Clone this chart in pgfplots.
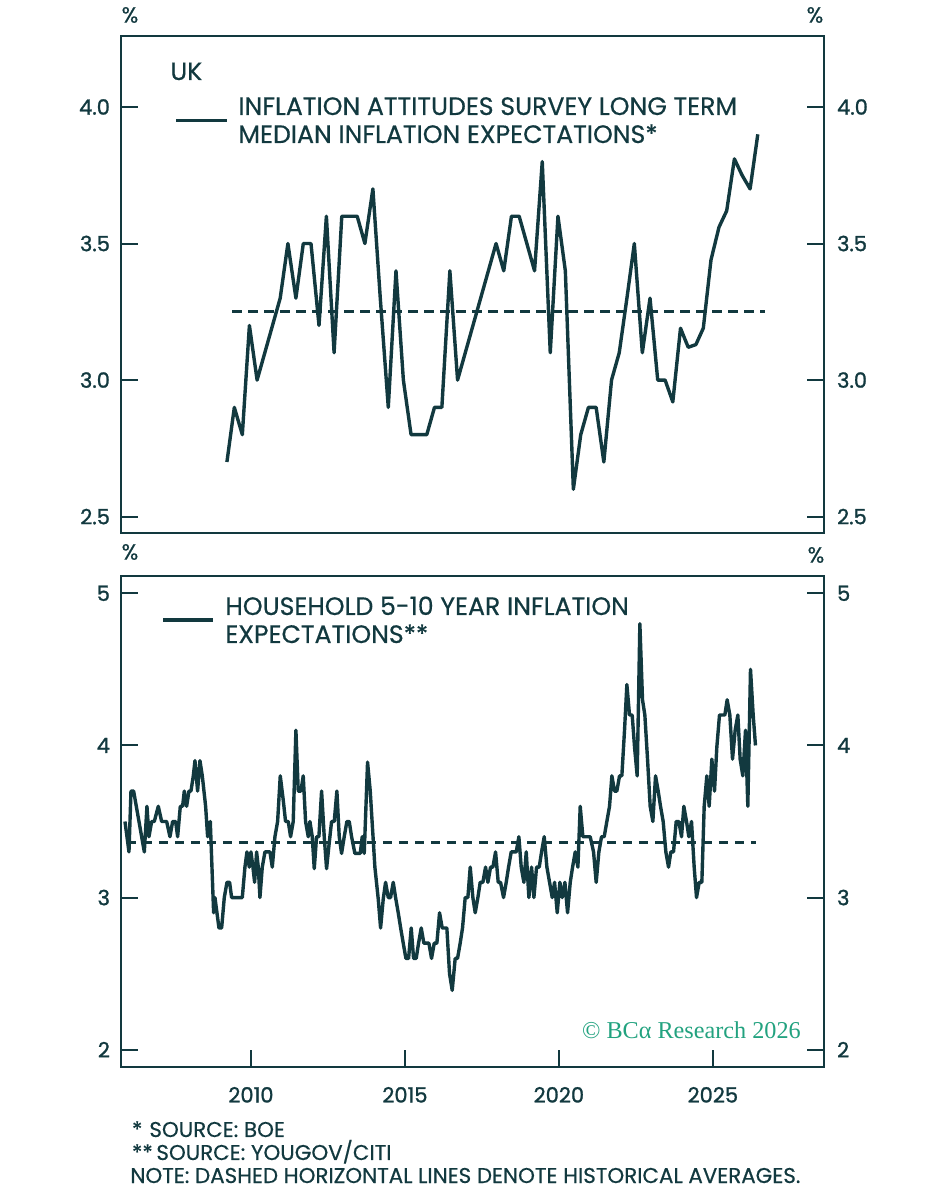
\documentclass[border=0pt]{standalone}
\usepackage{fontspec}
\setmainfont{Poppins}
\newfontfamily\tickfont{Poppins}[FakeBold=1.2]
\newfontfamily\txtfont{Poppins}[FakeBold=0.5]
\newfontfamily\seriffont{Liberation Serif}
\usepackage{pgfplots}
\usepackage{pgfplotstable}
\pgfplotsset{compat=1.18}
\definecolor{dark}{HTML}{12393F}
\definecolor{bcagreen}{HTML}{22A27F}

\pgfplotstableread{
year val
2009.22 2.7
2009.46 2.9
2009.72 2.8
2009.95 3.2
2010.20 3.0
2010.45 3.1
2010.70 3.2
2010.95 3.3
2011.20 3.5
2011.46 3.3
2011.70 3.5
2011.95 3.5
2012.21 3.2
2012.45 3.6
2012.70 3.1
2012.95 3.6
2013.20 3.6
2013.45 3.6
2013.70 3.5
2013.96 3.7
2014.20 3.3
2014.46 2.9
2014.71 3.4
2014.95 3.0
2015.20 2.8
2015.45 2.8
2015.71 2.8
2015.96 2.9
2016.20 2.9
2016.46 3.4
2016.71 3.0
2016.96 3.1
2017.21 3.2
2017.46 3.3
2017.71 3.4
2017.96 3.5
2018.21 3.4
2018.46 3.6
2018.71 3.6
2018.96 3.5
2019.21 3.4
2019.46 3.8
2019.72 3.1
2019.97 3.6
2020.21 3.4
2020.47 2.6
2020.71 2.8
2020.96 2.9
2021.21 2.9
2021.46 2.7
2021.71 3.0
2021.96 3.1
2022.21 3.3
2022.45 3.5
2022.71 3.1
2022.96 3.3
2023.21 3.0
2023.45 3.0
2023.70 2.92
2023.95 3.19
2024.20 3.12
2024.45 3.13
2024.69 3.19
2024.94 3.44
2025.20 3.56
2025.45 3.62
2025.70 3.81
2025.95 3.75
2026.21 3.70
2026.46 3.90
}\boetable

\pgfplotstableread{
year val
2005.909 3.50
2006.039 3.30
2006.104 3.70
2006.190 3.70
2006.364 3.50
2006.537 3.30
2006.623 3.60
2006.688 3.40
2006.775 3.50
2006.861 3.50
2006.991 3.60
2007.100 3.50
2007.262 3.50
2007.370 3.40
2007.457 3.50
2007.554 3.50
2007.619 3.40
2007.706 3.60
2007.781 3.60
2007.835 3.70
2007.911 3.60
2007.987 3.70
2008.052 3.70
2008.128 3.80
2008.182 3.90
2008.268 3.70
2008.344 3.90
2008.420 3.80
2008.528 3.60
2008.593 3.40
2008.680 3.50
2008.788 2.90
2008.831 3.00
2008.896 2.90
2008.961 2.80
2009.048 2.80
2009.134 3.00
2009.221 3.10
2009.307 3.10
2009.372 3.00
2009.535 3.00
2009.719 3.00
2009.805 3.20
2009.870 3.30
2009.946 3.20
2010.000 3.30
2010.065 3.20
2010.119 3.10
2010.184 3.30
2010.238 3.20
2010.292 3.00
2010.368 3.20
2010.455 3.30
2010.617 3.30
2010.693 3.20
2010.779 3.40
2010.866 3.50
2010.952 3.80
2011.049 3.64
2011.124 3.50
2011.211 3.50
2011.287 3.40
2011.373 3.50
2011.460 4.10
2011.536 3.70
2011.623 3.70
2011.698 3.80
2011.774 3.50
2011.861 3.40
2011.915 3.50
2011.991 3.40
2012.056 3.19
2012.131 3.40
2012.207 3.40
2012.294 3.70
2012.380 3.40
2012.456 3.19
2012.532 3.34
2012.618 3.50
2012.705 3.50
2012.791 3.70
2012.867 3.40
2012.943 3.29
2013.029 3.40
2013.116 3.50
2013.192 3.50
2013.268 3.40
2013.376 3.29
2013.462 3.29
2013.549 3.29
2013.614 3.40
2013.679 3.29
2013.787 3.89
2013.874 3.70
2014.025 3.20
2014.134 2.99
2014.210 2.80
2014.296 2.99
2014.372 3.10
2014.459 3.00
2014.534 3.00
2014.621 3.10
2014.697 3.00
2014.783 2.90
2014.870 2.79
2014.946 2.70
2015.032 2.60
2015.119 2.60
2015.205 2.80
2015.281 2.60
2015.367 2.60
2015.443 2.70
2015.530 2.80
2015.616 2.70
2015.703 2.70
2015.779 2.70
2015.865 2.60
2015.952 2.70
2016.038 2.70
2016.125 2.90
2016.211 2.80
2016.362 2.80
2016.449 2.50
2016.536 2.39
2016.633 2.60
2016.709 2.60
2016.795 2.70
2016.871 2.80
2016.958 3.00
2017.045 3.00
2017.121 3.20
2017.207 3.00
2017.283 2.90
2017.370 3.00
2017.445 3.10
2017.532 3.10
2017.619 3.20
2017.695 3.10
2017.781 3.20
2017.857 3.20
2017.944 3.30
2018.030 3.10
2018.106 3.10
2018.203 3.00
2018.290 3.10
2018.366 3.20
2018.452 3.30
2018.528 3.30
2018.615 3.30
2018.701 3.40
2018.777 3.20
2018.864 3.10
2018.940 3.30
2019.026 3.00
2019.113 3.20
2019.189 3.00
2019.275 3.20
2019.362 3.20
2019.438 3.30
2019.524 3.40
2019.611 3.20
2019.698 3.10
2019.784 3.00
2019.860 3.10
2019.947 2.90
2020.033 3.10
2020.109 3.00
2020.196 3.10
2020.282 2.90
2020.369 3.10
2020.445 3.20
2020.531 3.30
2020.618 3.20
2020.693 3.60
2020.779 3.40
2020.855 3.40
2021.017 3.40
2021.126 3.30
2021.212 3.10
2021.299 3.30
2021.385 3.40
2021.472 3.40
2021.558 3.50
2021.645 3.60
2021.721 3.80
2021.807 3.70
2021.883 3.70
2021.970 3.80
2022.045 3.80
2022.132 4.10
2022.208 4.40
2022.294 4.20
2022.381 4.20
2022.457 3.99
2022.543 3.80
2022.630 4.80
2022.716 4.30
2022.792 4.20
2022.879 3.91
2022.965 3.60
2023.052 3.50
2023.139 3.80
2023.225 3.70
2023.301 3.60
2023.387 3.50
2023.474 3.30
2023.561 3.20
2023.636 3.30
2023.723 3.30
2023.810 3.50
2023.896 3.50
2023.983 3.40
2024.058 3.60
2024.145 3.50
2024.221 3.40
2024.307 3.50
2024.394 3.20
2024.470 3.00
2024.556 3.10
2024.643 3.10
2024.719 3.60
2024.805 3.80
2024.881 3.60
2024.968 3.91
2025.054 3.70
2025.130 3.99
2025.216 4.20
2025.303 4.20
2025.390 4.20
2025.465 4.30
2025.552 4.20
2025.639 3.91
2025.725 4.10
2025.812 4.20
2025.887 3.91
2025.974 3.80
2026.061 4.10
2026.136 3.60
2026.223 4.50
2026.310 4.20
2026.385 4.00
}\yougovtable

\pgfplotsset{
  common/.style={
    scale only axis, width=351.5pt,
    xmin=2005.78, xmax=2028.61,
    axis line style={dark, line width=1pt},
    every tick/.style={dark, line width=1pt},
    tick align=inside, major tick length=8.5pt,
    tick label style={font=\tickfont\fontsize{10.5}{12}\selectfont, text=dark},
    /pgf/number format/assume math mode=true,
    /pgf/number format/1000 sep={},
  },
  series/.style={dark, line width=1.7pt, line join=round, no markers},
  avg/.style={dark, line width=1.6pt, dash pattern=on 4.7pt off 3.3pt, no markers},
}

\begin{document}
\begin{tikzpicture}
\useasboundingbox (0,0) rectangle (472.5pt,600pt);

% ---------- top panel ----------
\begin{axis}[common, at={(60.5pt,333.5pt)}, anchor=south west, height=248.5pt,
  ymin=2.44, ymax=4.26, xtick=\empty,
  ytick={2.5,3,3.5,4}, ytick pos=both, yticklabel pos=left,
  yticklabel style={xshift=-2pt, /pgf/number format/.cd, fixed, fixed zerofill, precision=1}]
  \addplot[avg] coordinates {(2009.40,3.25) (2026.70,3.25)};
  \addplot[series] table[x=year, y=val] {\boetable};
\end{axis}
\begin{axis}[common, at={(60.5pt,333.5pt)}, anchor=south west, height=248.5pt,
  ymin=2.44, ymax=4.26, axis x line=none, axis y line*=right,
  y axis line style={draw=none}, major tick length=0pt,
  ytick={2.5,3,3.5,4},
  yticklabel style={xshift=3pt, /pgf/number format/.cd, fixed, fixed zerofill, precision=1}]
\end{axis}

% ---------- bottom panel ----------
\begin{axis}[common, at={(60.5pt,66.5pt)}, anchor=south west, height=245.5pt,
  ymin=1.886, ymax=5.114,
  xtick={2010,2015,2020,2025}, xtick pos=bottom,
  xticklabel style={yshift=-6.5pt},
  ytick={2,3,4,5}, ytick pos=both, yticklabel pos=left,
  yticklabel style={xshift=-2pt}]
  \addplot[avg] coordinates {(2005.97,3.36) (2026.41,3.36)};
  \addplot[series] table[x=year, y=val] {\yougovtable};
\end{axis}
\begin{axis}[common, at={(60.5pt,66.5pt)}, anchor=south west, height=245.5pt,
  ymin=1.886, ymax=5.114, axis x line=none, axis y line*=right,
  y axis line style={draw=none}, major tick length=0pt,
  ytick={2,3,4,5},
  yticklabel style={xshift=3pt}]
\end{axis}

% ---------- annotations ----------
\begin{scope}[every node/.style={inner sep=0pt, text=dark}]
  \node[font=\txtfont\fontsize{11}{12}\selectfont] at (65pt,592.5pt) {\%};
  \node[font=\txtfont\fontsize{11}{12}\selectfont] at (407.5pt,592.5pt) {\%};
  \node[font=\txtfont\fontsize{11}{12}\selectfont] at (65pt,324pt) {\%};
  \node[font=\txtfont\fontsize{11}{12}\selectfont] at (408pt,322.5pt) {\%};

  \node[anchor=base west, font=\txtfont\fontsize{12.5}{14}\selectfont] at (85pt,560pt) {UK};
  \draw[dark, line width=1.7pt] (88pt,539.65pt) -- (113.5pt,539.65pt);
  \node[anchor=base west, font=\txtfont\fontsize{12.6}{14}\selectfont] at (119pt,542.5pt) {INFLATION ATTITUDES SURVEY LONG TERM};
  \node[anchor=base west, font=\txtfont\fontsize{12.6}{14}\selectfont] at (119pt,528.5pt) {MEDIAN INFLATION EXPECTATIONS*};

  \draw[dark, line width=1.7pt] (81.5pt,290pt) -- (106.5pt,290pt);
  \node[anchor=base west, font=\txtfont\fontsize{12.6}{14}\selectfont] at (112.5pt,292.5pt) {HOUSEHOLD 5-10 YEAR INFLATION};
  \node[anchor=base west, font=\txtfont\fontsize{12.6}{14}\selectfont] at (112.5pt,278.5pt) {EXPECTATIONS**};

  \node[anchor=base west, text=bcagreen, font=\seriffont\fontsize{12.1}{14}\selectfont] at (290.85pt,80.5pt) {© BCα Research 2026};

  \node[anchor=base west, font=\txtfont\fontsize{10.7}{12}\selectfont] at (65.8pt,31.5pt) {*};
  \node[anchor=base west, font=\txtfont\fontsize{10.7}{12}\selectfont] at (74.5pt,31.5pt) {SOURCE: BOE};
  \node[anchor=base west, font=\txtfont\fontsize{10.7}{12}\selectfont] at (65.8pt,20pt) {**};
  \node[anchor=base west, font=\txtfont\fontsize{10.7}{12}\selectfont] at (78pt,20pt) {SOURCE: YOUGOV/CITI};
  \node[anchor=base west, font=\txtfont\fontsize{10.7}{12}\selectfont] at (65pt,8.5pt) {NOTE: DASHED HORIZONTAL LINES DENOTE HISTORICAL AVERAGES.};
\end{scope}
\end{tikzpicture}
\end{document}
